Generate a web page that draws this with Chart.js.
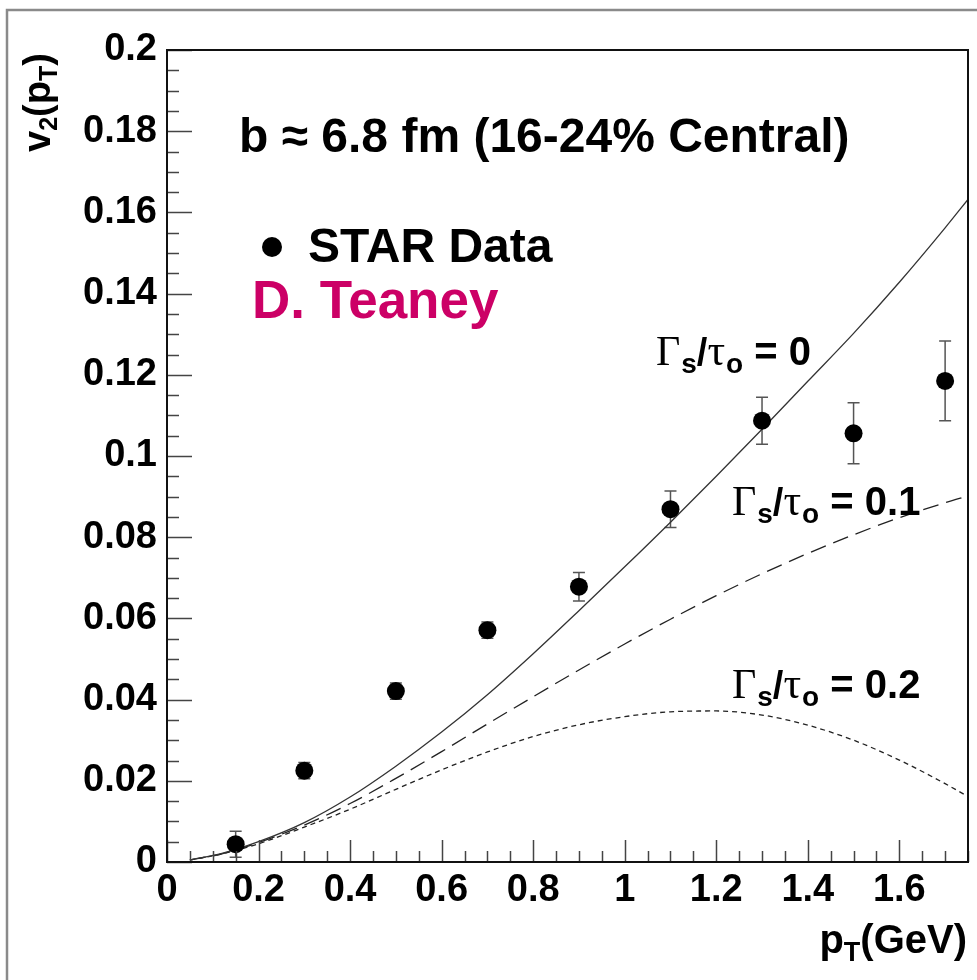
<!DOCTYPE html>
<html>
<head>
<meta charset="utf-8">
<script src="https://cdn.jsdelivr.net/npm/chart.js@4.4.1/dist/chart.umd.min.js"></script>
<style>
  html, body { margin: 0; padding: 0; background: #fff; }
  canvas { display: block; }
</style>
</head>
<body>
<canvas id="v2chart" width="977" height="980"></canvas>
<script>
// STAR v2(pT) at b ~ 6.8 fm, with viscous hydro curves for three Gamma_s/tau_o values
const starPt = [0.15, 0.3, 0.5, 0.7, 0.9, 1.1, 1.3, 1.5, 1.7];
const starV2 = [0.0044, 0.0225, 0.0421, 0.0571, 0.0678, 0.0869, 0.1087, 0.1056, 0.1185];
const starErr = [0.0032, 0.002, 0.002, 0.002, 0.0035, 0.0045, 0.0058, 0.0075, 0.0098];

const curvePt = [0.05, 0.12, 0.2, 0.3, 0.4, 0.5, 0.6, 0.7, 0.8, 0.9, 1.0, 1.1, 1.2, 1.3, 1.4, 1.5, 1.6, 1.7, 1.75];
const hydroIdeal = [0.0005, 0.0021, 0.005, 0.0097, 0.016, 0.0236, 0.032, 0.0412, 0.0513, 0.0619, 0.0727, 0.0837, 0.095, 0.1066, 0.1184, 0.1302, 0.1428, 0.1562, 0.1632];
const hydroVisc1 = [0.0005, 0.002, 0.0048, 0.0091, 0.0144, 0.0206, 0.0272, 0.034, 0.0407, 0.0473, 0.0537, 0.0598, 0.0656, 0.071, 0.076, 0.0806, 0.0848, 0.0885, 0.0902];
const hydroVisc2 = [0.0005, 0.002, 0.0045, 0.0086, 0.013, 0.0179, 0.0227, 0.0271, 0.0309, 0.0338, 0.0358, 0.037, 0.0372, 0.0362, 0.0337, 0.03, 0.0251, 0.0193, 0.0161];

const xTickStep = 0.2, xMinorStep = 0.05, xMax = 1.75;
const yTickStep = 0.02, yMinorStep = 0.005, yMax = 0.2;

const SANS = '"Liberation Sans", Arial, Helvetica, sans-serif';
const SERIF = '"Liberation Serif", "Times New Roman", serif';

function pairs(xs, ys) {
  return xs.map((x, i) => ({ x: x, y: ys[i] }));
}

function fmt(v) {
  return String(parseFloat(v.toFixed(3)));
}

// draws a row of text pieces with their own fonts / offsets, returns width
function drawRuns(ctx, x, y, parts) {
  let cx = x;
  parts.forEach(p => {
    ctx.font = p.font;
    ctx.fillText(p.t, cx, y + (p.dy || 0));
    cx += ctx.measureText(p.t).width + (p.gap || 0);
  });
  return cx - x;
}

function gammaLabel(ctx, x, y, val) {
  drawRuns(ctx, x, y, [
    { t: 'Γ', font: '42px ' + SERIF, gap: 1 },
    { t: 's', font: 'bold 28px ' + SANS, dy: 8 },
    { t: '/', font: 'bold 38px ' + SANS },
    { t: 'τ', font: '44px ' + SERIF, gap: 1 },
    { t: 'o', font: 'bold 28px ' + SANS, dy: 8 },
    { t: ' = ' + val, font: 'bold 40px ' + SANS }
  ]);
}

const rootStyle = {
  id: 'rootStyle',
  beforeDraw(chart) {
    const ctx = chart.ctx;
    ctx.save();
    ctx.fillStyle = '#fff';
    ctx.fillRect(0, 0, chart.width, chart.height);
    ctx.strokeStyle = '#8a8a8a';
    ctx.lineWidth = 2.5;
    ctx.beginPath();
    ctx.moveTo(7, chart.height);
    ctx.lineTo(7, 10);
    ctx.lineTo(chart.width, 10);
    ctx.stroke();
    ctx.restore();
  },
  beforeDatasetsDraw(chart) {
    // error bars under the markers
    const ctx = chart.ctx;
    const xs = chart.scales.x, ys = chart.scales.y;
    ctx.save();
    ctx.strokeStyle = '#555';
    ctx.lineWidth = 1.5;
    starPt.forEach((p, i) => {
      const px = xs.getPixelForValue(p);
      const lo = ys.getPixelForValue(starV2[i] - starErr[i]);
      const hi = ys.getPixelForValue(starV2[i] + starErr[i]);
      ctx.beginPath();
      ctx.moveTo(px, lo); ctx.lineTo(px, hi);
      ctx.moveTo(px - 6, lo); ctx.lineTo(px + 6, lo);
      ctx.moveTo(px - 6, hi); ctx.lineTo(px + 6, hi);
      ctx.stroke();
    });
    ctx.restore();
  },
  afterDraw(chart) {
    const ctx = chart.ctx;
    const a = chart.chartArea;
    const xs = chart.scales.x, ys = chart.scales.y;
    ctx.save();

    // inward tick marks on bottom and left
    ctx.strokeStyle = '#444';
    ctx.lineWidth = 1.5;
    ctx.beginPath();
    for (let k = 0; k * xMinorStep <= xMax + 1e-9; k++) {
      const v = k * xMinorStep;
      const major = k % Math.round(xTickStep / xMinorStep) === 0;
      const px = Math.round(xs.getPixelForValue(v)) + 0.5;
      ctx.moveTo(px, a.bottom);
      ctx.lineTo(px, a.bottom - (major ? 22 : 11));
    }
    for (let k = 0; k * yMinorStep <= yMax + 1e-9; k++) {
      const v = k * yMinorStep;
      const major = k % Math.round(yTickStep / yMinorStep) === 0;
      const py = Math.round(ys.getPixelForValue(v)) + 0.5;
      ctx.moveTo(a.left, py);
      ctx.lineTo(a.left + (major ? 25 : 12), py);
    }
    ctx.stroke();

    // plot frame
    ctx.strokeStyle = '#111';
    ctx.lineWidth = 2;
    ctx.strokeRect(a.left, a.top, a.right - a.left, a.bottom - a.top);

    ctx.fillStyle = '#000';
    ctx.textAlign = 'left';
    ctx.textBaseline = 'alphabetic';

    ctx.font = 'bold 48px ' + SANS;
    ctx.fillText('b \u2248 6.8 fm (16-24% Central)', 239, 152);

    ctx.beginPath();
    ctx.arc(272, 247, 10, 0, Math.PI * 2);
    ctx.fill();
    ctx.font = 'bold 48px ' + SANS;
    ctx.fillText('STAR Data', 308, 262);

    ctx.fillStyle = '#cc0066';
    ctx.font = 'bold 53px ' + SANS;
    ctx.fillText('D. Teaney', 252, 318);

    ctx.fillStyle = '#000';
    gammaLabel(ctx, 656, 365, '0');
    gammaLabel(ctx, 732, 515, '0.1');
    gammaLabel(ctx, 732, 698, '0.2');

    // axis titles
    const xw = (function () {
      ctx.font = 'bold 40px ' + SANS;
      let w = ctx.measureText('p').width + ctx.measureText('(GeV)').width;
      ctx.font = 'bold 27px ' + SANS;
      return w + ctx.measureText('T').width;
    })();
    drawRuns(ctx, 967 - xw, 953, [
      { t: 'p', font: 'bold 40px ' + SANS },
      { t: 'T', font: 'bold 27px ' + SANS, dy: 8 },
      { t: '(GeV)', font: 'bold 40px ' + SANS }
    ]);

    ctx.translate(50, 152);
    ctx.rotate(-Math.PI / 2);
    drawRuns(ctx, 0, 0, [
      { t: 'v', font: 'bold 38px ' + SANS },
      { t: '2', font: 'bold 25px ' + SANS, dy: 7 },
      { t: '(p', font: 'bold 38px ' + SANS },
      { t: 'T', font: 'bold 25px ' + SANS, dy: 7 },
      { t: ')', font: 'bold 38px ' + SANS }
    ]);
    ctx.restore();
  }
};

const ctx = document.getElementById('v2chart').getContext('2d');
const chart = new Chart(ctx, {
  type: 'scatter',
  data: {
    datasets: [
      {
        label: 'STAR Data',
        data: pairs(starPt, starV2),
        pointRadius: 9,
        pointBackgroundColor: '#000',
        pointBorderColor: '#000',
        pointBorderWidth: 0,
        showLine: false
      },
      {
        label: 'Gs/to = 0',
        data: pairs(curvePt, hydroIdeal),
        showLine: true,
        borderColor: '#333',
        borderWidth: 1.3,
        pointRadius: 0,
        cubicInterpolationMode: 'monotone'
      },
      {
        label: 'Gs/to = 0.1',
        data: pairs(curvePt, hydroVisc1),
        showLine: true,
        borderColor: '#222',
        borderWidth: 1.3,
        borderDash: [16, 8],
        pointRadius: 0,
        cubicInterpolationMode: 'monotone'
      },
      {
        label: 'Gs/to = 0.2',
        data: pairs(curvePt, hydroVisc2),
        showLine: true,
        borderColor: '#222',
        borderWidth: 1.3,
        borderDash: [5, 4],
        pointRadius: 0,
        cubicInterpolationMode: 'monotone'
      }
    ]
  },
  options: {
    responsive: false,
    animation: false,
    devicePixelRatio: 1,
    layout: { padding: { top: 50, right: 9, left: 0, bottom: 0 } },
    plugins: { legend: { display: false }, tooltip: { enabled: false } },
    scales: {
      x: {
        type: 'linear',
        min: 0,
        max: xMax,
        grid: { display: false, drawTicks: false },
        border: { display: false },
        ticks: {
          stepSize: xTickStep,
          includeBounds: false,
          maxRotation: 0,
          autoSkip: false,
          padding: 6,
          color: '#000',
          font: { family: SANS, weight: 'bold', size: 38, lineHeight: 1.2 },
          callback: v => fmt(v)
        },
        afterFit: s => { s.height = 118; }
      },
      y: {
        type: 'linear',
        min: 0,
        max: yMax,
        grid: { display: false, drawTicks: false },
        border: { display: false },
        ticks: {
          stepSize: yTickStep,
          includeBounds: false,
          autoSkip: false,
          padding: 10,
          color: '#000',
          font: { family: SANS, weight: 'bold', size: 38, lineHeight: 1.2 },
          callback: v => fmt(v)
        },
        afterFit: s => { s.width = 167; }
      }
    }
  },
  plugins: [rootStyle]
});
</script>
</body>
</html>
